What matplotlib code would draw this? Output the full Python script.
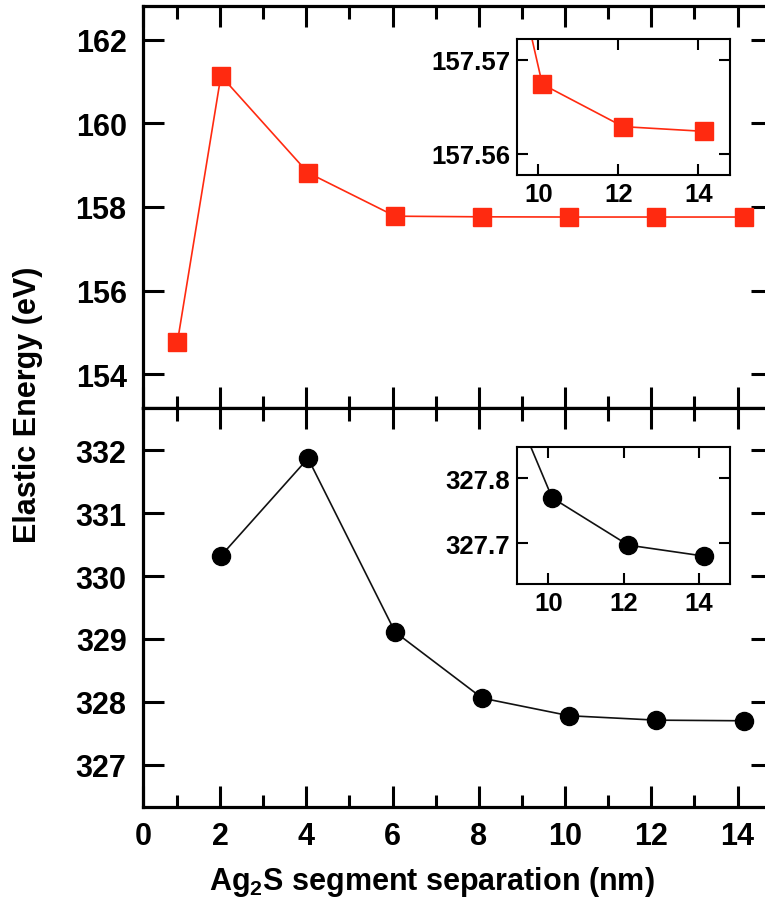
import matplotlib
matplotlib.use("Agg")
import matplotlib.pyplot as plt
from matplotlib.ticker import FixedLocator, FormatStrFormatter

plt.rcParams['font.family'] = ['Liberation Sans', 'DejaVu Sans']
plt.rcParams['font.weight'] = 'bold'
plt.rcParams['mathtext.fontset'] = 'custom'
plt.rcParams['mathtext.rm'] = 'Liberation Sans:bold'
plt.rcParams['mathtext.default'] = 'rm'

# Segment separations (nm)
sep_all = [1.01, 2.02, 4.04, 6.06, 8.08, 10.10, 12.12, 14.14]
sep_black = [2.02, 4.04, 6.06, 8.08, 10.10, 12.12, 14.14]
sep_inset = [8.08, 10.10, 12.12, 14.14]

# Elastic energies (eV)
energy_red = [154.76, 161.14, 158.82, 157.78, 157.765, 157.76, 157.76, 157.76]
energy_black = [330.32, 331.87, 329.11, 328.06, 327.78, 327.71, 327.70]
energy_red_inset = [157.605, 157.5674, 157.5629, 157.5624]
energy_black_inset = [328.05, 327.770, 327.697, 327.680]

x_major = [2, 4, 6, 8, 10, 12, 14]
x_labels = ['0', '2', '4', '6', '8', '10', '12', '14']
x_minor = [1, 3, 5, 7, 9, 11, 13]
red_yticks = [154, 156, 158, 160, 162]
black_yticks = [327, 328, 329, 330, 331, 332]
inset_xticks = [10, 12, 14]
red_inset_yticks = [157.56, 157.57]
black_inset_yticks = [327.7, 327.8]

RED = '#ff2a10'
W, H = 765, 903
fig = plt.figure(figsize=(W / 100, H / 100), dpi=100)

def fx(px):
    return px / W

def fy(py):
    return 1 - py / H

left, right = 143.3, 772.0
ax_top = fig.add_axes([fx(left), fy(409), fx(right - left), fy(7) - fy(409)])
ax_bot = fig.add_axes([fx(left), fy(808), fx(right - left), fy(409) - fy(808)])

xmin, xmax = 0.22, 14.80
for ax in (ax_top, ax_bot):
    ax.set_xlim(xmin, xmax)
    ax.xaxis.set_major_locator(FixedLocator([xmin] + x_major))
    ax.xaxis.set_minor_locator(FixedLocator(x_minor))
    for s in ax.spines.values():
        s.set_linewidth(2.3)
    ax.tick_params(which='both', direction='in', top=True, right=True,
                   width=2.2, labelsize=22, pad=12)
    ax.tick_params(which='major', length=15)
    ax.tick_params(which='minor', length=9)
    ax.tick_params(axis='y', which='minor', left=False, right=False)

ax_top.plot(sep_all, energy_red, '-', color=RED, lw=1.2,
            marker='s', ms=12.5, mec=RED, mfc=RED)
ax_top.set_ylim(153.19, 162.81)
ax_top.yaxis.set_major_locator(FixedLocator(red_yticks))
ax_top.tick_params(axis='x', labelbottom=False)

ax_bot.plot(sep_black, energy_black, '-', color='#111111', lw=1.2,
            marker='o', ms=13, mec='black', mfc='black')
ax_bot.set_ylim(326.33, 332.67)
ax_bot.yaxis.set_major_locator(FixedLocator(black_yticks))
ax_bot.set_xticklabels(x_labels)
ax_bot.tick_params(axis='x', pad=10)

# Insets zooming in on the large-separation tail
in_top = fig.add_axes([fx(517.3), fy(175.7), fx(730 - 517.3), fy(40) - fy(175.7)])
in_bot = fig.add_axes([fx(517.3), fy(585), fx(730 - 517.3), fy(448.3) - fy(585)])

in_top.plot(sep_inset, energy_red_inset, '-', color=RED, lw=1.2,
            marker='s', ms=12.5, mec=RED, mfc=RED)
in_top.set_xlim(9.475, 14.79)
in_top.set_ylim(157.5578, 157.5722)
in_top.yaxis.set_major_locator(FixedLocator(red_inset_yticks))
in_top.yaxis.set_major_formatter(FormatStrFormatter('%.2f'))

in_bot.plot(sep_inset, energy_black_inset, '-', color='#111111', lw=1.2,
            marker='o', ms=13, mec='black', mfc='black')
in_bot.set_xlim(9.175, 14.82)
in_bot.set_ylim(327.637, 327.848)
in_bot.yaxis.set_major_locator(FixedLocator(black_inset_yticks))
in_bot.yaxis.set_major_formatter(FormatStrFormatter('%.1f'))

for ax in (in_top, in_bot):
    ax.xaxis.set_major_locator(FixedLocator(inset_xticks))
    for s in ax.spines.values():
        s.set_linewidth(1.5)
    ax.tick_params(which='both', direction='in', top=True, right=True,
                   width=1.5, length=8, labelsize=18.5, pad=5)

fig.text(fx(28), fy(405), 'Elastic Energy (eV)', rotation=90,
         ha='center', va='center', fontsize=22, fontweight='bold')
fig.text(fx(432), fy(882), r'Ag$_2$S segment separation (nm)',
         ha='center', va='center', fontsize=22, fontweight='bold')

fig.savefig('out.png', dpi=100)
